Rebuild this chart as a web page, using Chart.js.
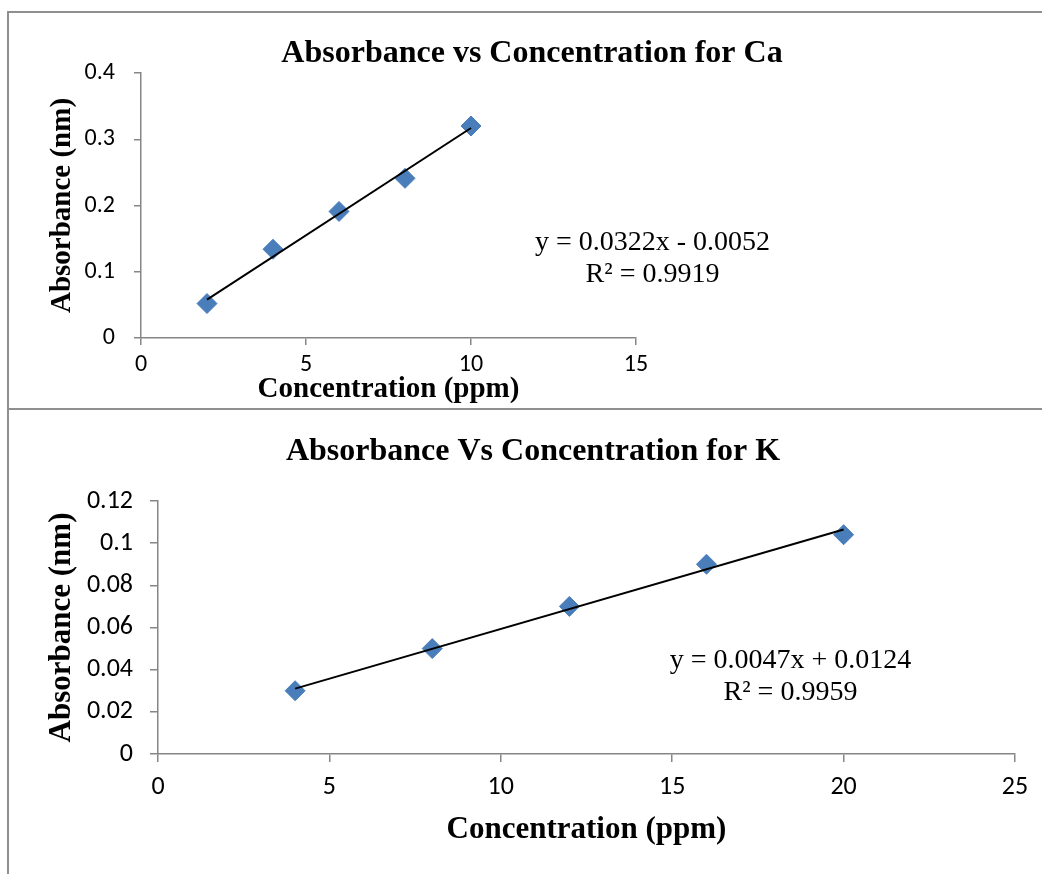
<!DOCTYPE html>
<html>
<head>
<meta charset="utf-8">
<script src="https://cdn.jsdelivr.net/npm/chart.js@4.4.1/dist/chart.umd.min.js"></script>
<style>
  html, body { margin: 0; padding: 0; background: #fff; }
  #page { position: relative; width: 1042px; height: 874px; overflow: hidden; }
  canvas { position: absolute; left: 0; }
  .rule { position: absolute; background: #8f8f8f; }
</style>
</head>
<body>
<div id="page">
  <div class="rule" style="left:8px; top:11px; width:1034px; height:2px;"></div>
  <div class="rule" style="left:7px; top:11px; width:2px; height:863px;"></div>
  <div class="rule" style="left:8px; top:408px; width:1034px; height:2px;"></div>
  <canvas id="ca-chart" width="1042" height="409" style="top:0"></canvas>
  <canvas id="k-chart" width="1042" height="465" style="top:409px"></canvas>
</div>
<script>
/* jshint esversion: 6 */
// Calibration data.

// Ca standards
const caConc = [2, 4, 6, 8, 10];
const caAbs  = [0.052, 0.134, 0.191, 0.241, 0.320];
// Ca trendline end points
const caFitX = [2, 10];
const caFitY = [0.058, 0.317];
const caXTicks = [0, 5, 10, 15];
const caYTicks = [0, 0.1, 0.2, 0.3, 0.4];

// K standards
const kConc = [4, 8, 12, 16, 20];
const kAbs  = [0.030, 0.050, 0.070, 0.090, 0.104];
// K trendline end points
const kFitX = [4, 20];
const kFitY = [0.031, 0.1065];
const kXTicks = [0, 5, 10, 15, 20, 25];
const kYTicks = [0, 0.02, 0.04, 0.06, 0.08, 0.1, 0.12];

const AXIS_GREY  = "#868686";
const MARK_BLUE  = "#4a7ebb";
const SERIF      = '"Liberation Serif", "Times New Roman", serif';
const SANS       = 'Carlito, Lato, sans-serif';

/**
 * Draws the chart title (centred on the page, not the plot) and the
 * trendline equation, which is anchored in data units.
 */
const sheetText = {
  id: 'sheetText',
  afterDraw(chart, args, opts) {
    const ctx = chart.ctx;
    ctx.save();
    ctx.fillStyle = "#000";
    ctx.textAlign = "center";
    ctx.textBaseline = "alphabetic";

    ctx.font = "bold 32px " + SERIF;
    ctx.fillText(opts.title, opts.titleX, opts.titleY);

    const ex = chart.scales.x.getPixelForValue(opts.eqAt[0]);
    const ey = chart.scales.y.getPixelForValue(opts.eqAt[1]);
    ctx.font = "28px " + SERIF;
    opts.eqLines.forEach((t, i) => ctx.fillText(t, ex, ey + i * 32));
    ctx.restore();
  }
};

function toPoints(xs, ys) {
  return xs.map((x, i) => ({ x: x, y: ys[i] }));
}

function buildChart(id, s) {
  const ctx = document.getElementById(id).getContext('2d');
  return new Chart(ctx, {
    type: 'scatter',
    data: {
      datasets: [
        {
          label: "Trendline",
          data: toPoints(s.fitX, s.fitY),
          showLine: true,
          borderColor: "#000",
          borderWidth: 2,
          pointRadius: 0,
          order: 0
        },
        {
          label: "Absorbance",
          data: toPoints(s.conc, s.abs),
          pointStyle: 'rectRot',
          pointRadius: 10,
          backgroundColor: MARK_BLUE,
          borderColor: MARK_BLUE,
          borderWidth: 1,
          order: 1
        }
      ]
    },
    options: {
      responsive: false,
      animation: false,
      events: [],
      layout: { padding: s.pad },
      plugins: {
        legend: { display: false },
        tooltip: { enabled: false },
        sheetText: s.text
      },
      scales: {
        x: {
          type: 'linear',
          min: s.xTicks[0],
          max: s.xTicks[s.xTicks.length - 1],
          afterBuildTicks: (sc) => { sc.ticks = s.xTicks.map(v => ({ value: v })); },
          afterFit: (sc) => { sc.height = s.xHeight; },
          grid: { display: true, drawOnChartArea: false, drawTicks: true,
                  tickLength: s.tickLen, color: AXIS_GREY, lineWidth: 1.5 },
          border: { display: true, color: AXIS_GREY, width: 1.5 },
          ticks: { color: "#000", padding: s.xTickPad, callback: (v) => String(v),
                   font: { family: SANS, size: s.tickSize } },
          title: { display: true, text: "Concentration (ppm)", color: "#000",
                   padding: 0, font: { family: SERIF, size: s.xTitleSize, weight: 'bold' } }
        },
        y: {
          type: 'linear',
          min: s.yTicks[0],
          max: s.yTicks[s.yTicks.length - 1],
          afterBuildTicks: (sc) => { sc.ticks = s.yTicks.map(v => ({ value: v })); },
          afterFit: (sc) => { sc.width = s.yWidth; },
          grid: { display: true, drawOnChartArea: false, drawTicks: true,
                  tickLength: s.tickLen, color: AXIS_GREY, lineWidth: 1.5 },
          border: { display: true, color: AXIS_GREY, width: 1.5 },
          ticks: { color: "#000", padding: s.yTickPad, callback: (v) => String(v),
                   font: { family: SANS, size: s.tickSize } },
          title: { display: true, text: "Absorbance (nm)", color: "#000",
                   padding: 0, font: { family: SERIF, size: s.yTitleSize, weight: 'bold' } }
        }
      }
    },
    plugins: [sheetText]
  });
}

buildChart("ca-chart", {
  conc: caConc, abs: caAbs, fitX: caFitX, fitY: caFitY,
  xTicks: caXTicks, yTicks: caYTicks,
  pad: { top: 73, right: 406, left: 45, bottom: 2 },
  yWidth: 96, xHeight: 69,
  tickLen: 7, tickSize: 24, xTickPad: 6, yTickPad: 19,
  xTitleSize: 29, yTitleSize: 29,
  text: {
    title: "Absorbance vs Concentration for Ca", titleX: 532, titleY: 62,
    eqAt: [15.5, 0.133],
    eqLines: ["y = 0.0322x - 0.0052", "R\u00b2 = 0.9919"]
  }
});

buildChart("k-chart", {
  conc: kConc, abs: kAbs, fitX: kFitX, fitY: kFitY,
  xTicks: kXTicks, yTicks: kYTicks,
  pad: { top: 92, right: 27, left: 43, bottom: 25 },
  yWidth: 115, xHeight: 95,
  tickLen: 8, tickSize: 26, xTickPad: 10, yTickPad: 17,
  xTitleSize: 31, yTitleSize: 31,
  text: {
    title: "Absorbance Vs Concentration for K", titleX: 533, titleY: 51,
    eqAt: [18.45, 0.0407],
    eqLines: ["y = 0.0047x + 0.0124", "R\u00b2 = 0.9959"]
  }
});
</script>
</body>
</html>
